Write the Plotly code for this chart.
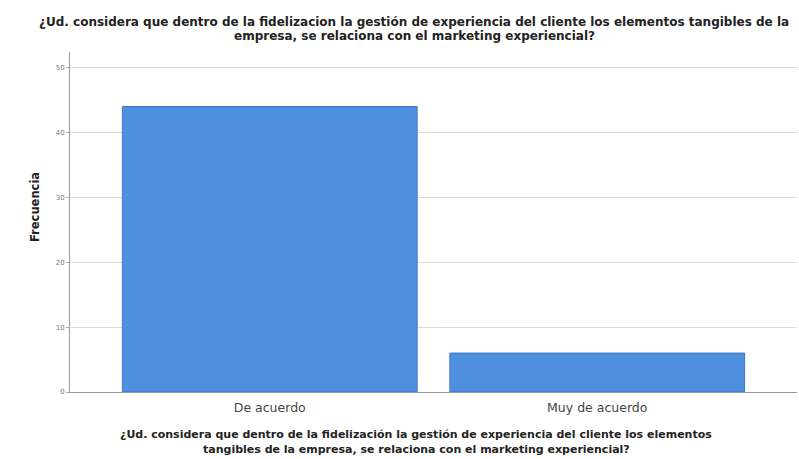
import plotly.graph_objects as go

# Survey responses (frequency per answer)
categories = ["De acuerdo", "Muy de acuerdo"]
frequencies = [44, 6]
y_ticks = [0, 10, 20, 30, 40, 50]

title_lines = [
    "¿Ud. considera que dentro de la fidelizacion la gestión de experiencia del cliente los elementos tangibles de la",
    "empresa, se relaciona con el marketing experiencial?",
]
xtitle_lines = [
    "¿Ud. considera que dentro de la fidelización la gestión de experiencia del cliente los elementos",
    "tangibles de la empresa, se relaciona con el marketing experiencial?",
]

W, H = 799, 459
L, R, T, B = 70, 2, 52, 67
plot_h = H - T - B

def py(pix):
    # convert a pixel row to paper coordinates
    return (H - B - pix) / plot_h

def px(pix):
    return (pix - L) / (W - L - R)

fig = go.Figure(
    go.Bar(
        x=categories,
        y=frequencies,
        width=0.9,
        marker=dict(color="#4f8fe0", line=dict(color="#3f78c4", width=1)),
    )
)

font_family = "DejaVu Sans, Verdana, sans-serif"
ann = []
for i, line in enumerate(title_lines):
    ann.append(dict(text=f"<b>{line}</b>", x=px(414), y=py(22 + 14 * i), xref="paper", yref="paper",
                    showarrow=False, xanchor="center", yanchor="middle",
                    font=dict(family=font_family, size=12, color="#222")))
for i, line in enumerate(xtitle_lines):
    ann.append(dict(text=f"<b>{line}</b>", x=px(416), y=py(434 + 15 * i), xref="paper", yref="paper",
                    showarrow=False, xanchor="center", yanchor="middle",
                    font=dict(family=font_family, size=11, color="#222")))
ann.append(dict(text="<b>Frecuencia</b>", x=px(35), y=py(207), xref="paper", yref="paper",
                showarrow=False, textangle=-90, xanchor="center", yanchor="middle",
                font=dict(family=font_family, size=11.5, color="#222")))

fig.update_layout(
    width=W, height=H,
    margin=dict(l=L, r=R, t=T, b=B),
    paper_bgcolor="white", plot_bgcolor="white",
    showlegend=False,
    annotations=ann,
    xaxis=dict(
        range=[-0.61, 1.61],
        showline=True, linecolor="#9a9a9a", linewidth=1,
        ticks="", showgrid=False,
        ticklabelstandoff=4,
        tickfont=dict(family=font_family, size=12.5, color="#444"),
    ),
    yaxis=dict(
        range=[0, 52.4],
        tickvals=y_ticks,
        showline=True, linecolor="#9a9a9a", linewidth=1,
        showgrid=True, gridcolor="#dcdcdc", gridwidth=1,
        zeroline=False,
        ticks="outside", ticklen=3, tickcolor="#b0b0b0",
        tickfont=dict(family=font_family, size=7, color="#777"),
    ),
)

fig.write_html("out.html")
